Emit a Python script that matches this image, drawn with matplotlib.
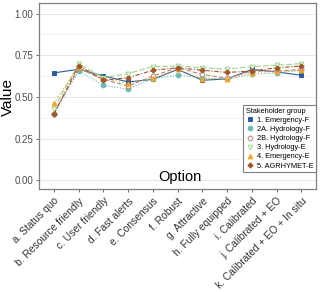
import numpy as np
import matplotlib
matplotlib.use("Agg")
import matplotlib.pyplot as plt

plt.rcParams['font.family'] = ['Liberation Sans', 'DejaVu Sans']

options = ['a. Status quo', 'b. Resource friendly', 'c. User friendly', 'd. Fast alerts',
           'e. Consensus', 'f. Robust', 'g. Attractive', 'h. Fully equipped',
           'i. Calibrated', 'j. Calibrated + EO', 'k. Calibrated + EO + In situ']

groups = ['1. Emergency-F', '2A. Hydrology-F', '2B. Hydrology-F',
          '3. Hydrology-E', '4. Emergency-E', '5. AGRHYMET-E']

emergency_f = [0.644, 0.666, 0.626, 0.590, 0.605, 0.665, 0.600, 0.608, 0.665, 0.650, 0.630]
hydrology_fa = [0.400, 0.656, 0.570, 0.546, 0.610, 0.630, 0.615, 0.605, 0.635, 0.645, 0.660]
hydrology_fb = [0.398, 0.672, 0.605, 0.565, 0.625, 0.675, 0.635, 0.612, 0.655, 0.655, 0.665]
hydrology_e = [0.430, 0.700, 0.615, 0.640, 0.682, 0.686, 0.675, 0.667, 0.682, 0.690, 0.700]
emergency_e = [0.466, 0.680, 0.610, 0.580, 0.612, 0.665, 0.610, 0.610, 0.645, 0.655, 0.660]
agrhymet_e = [0.398, 0.688, 0.600, 0.615, 0.660, 0.675, 0.660, 0.647, 0.655, 0.675, 0.685]

series = [emergency_f, hydrology_fa, hydrology_fb, hydrology_e, emergency_e, agrhymet_e]

colors = ['#2a5d9f', '#6cbab6', '#b58579', '#9dd48a', '#f5a524', '#a0562c']
markers = ['s', 'o', 'o', 'v', '^', 'P']
fills = [True, True, False, False, True, True]
styles = ['-', (0, (1, 1.5)), (0, (4, 2)), (0, (5, 2)), (0, (1, 2)), (0, (4, 1.5, 1, 1.5))]

fig = plt.figure(figsize=(3.2, 2.92), dpi=100)
ax = fig.add_axes([0.122, 0.353, 0.866, 0.637])

x = np.arange(len(options))
for vals, name, c, m, f, ls in zip(series, groups, colors, markers, fills, styles):
    ax.plot(x, vals, color=c, linestyle=ls, linewidth=0.8, marker=m, markersize=3.4,
            markerfacecolor=c if f else 'white', markeredgecolor=c, markeredgewidth=0.7,
            label=name)

ax.set_xlim(-0.6, len(options) - 0.4)
ax.set_ylim(-0.052, 1.064)
ax.set_yticks([0, 0.25, 0.5, 0.75, 1.0])
ax.set_yticks([0.125, 0.375, 0.625, 0.875], minor=True)
ax.set_yticklabels(['0.00', '0.25', '0.50', '0.75', '1.00'], fontsize=7, color='#4d4d4d')
ax.set_xticks(x)
ax.set_xticklabels(options, rotation=45, ha='right', rotation_mode='anchor',
                   fontsize=7.4, color='#333333')
ax.tick_params(axis='both', which='major', length=2.5, width=0.6, color='#555555', pad=1.5)
ax.tick_params(axis='x', which='major', pad=2.5)
ax.tick_params(axis='y', which='minor', length=0)
ax.grid(True, axis='y', which='major', color='#e6e6e6', linewidth=0.7)
ax.grid(True, axis='y', which='minor', color='#f2f2f2', linewidth=0.5)
ax.set_axisbelow(True)
for s in ax.spines.values():
    s.set_color('#7f7f7f')
    s.set_linewidth(0.9)

ax.text(0.51, 0.065, 'Option', transform=ax.transAxes, ha='center', va='center', fontsize=10.5)
fig.text(8 / 320, 1 - 97 / 292, 'Value', rotation=90, ha='center', va='center', fontsize=11)


def make_legend(spacing):
    lg = ax.legend(title='Stakeholder group', loc='lower right', bbox_to_anchor=(1.0, 0.09),
                   fontsize=5.3, title_fontsize=5.3, frameon=True, fancybox=False,
                   framealpha=1, edgecolor='#7f7f7f', borderaxespad=0, handlelength=1.0,
                   handletextpad=0.5, labelspacing=spacing, borderpad=0.35)
    lg._legend_box.align = 'left'
    lg.get_frame().set_linewidth(0.8)
    for h in lg.legend_handles:
        h.set_linestyle('')
    return lg


# legend box in the reference is about 67 px tall; tune row spacing to match
spacing = 0.3
for _ in range(6):
    leg = make_legend(spacing)
    fig.canvas.draw()
    hgt = leg.get_window_extent().height
    spacing = max(0.05, spacing + (67 - hgt) / 6 / 7.36)

leg = make_legend(spacing)

fig.savefig('out.png', dpi=100)
